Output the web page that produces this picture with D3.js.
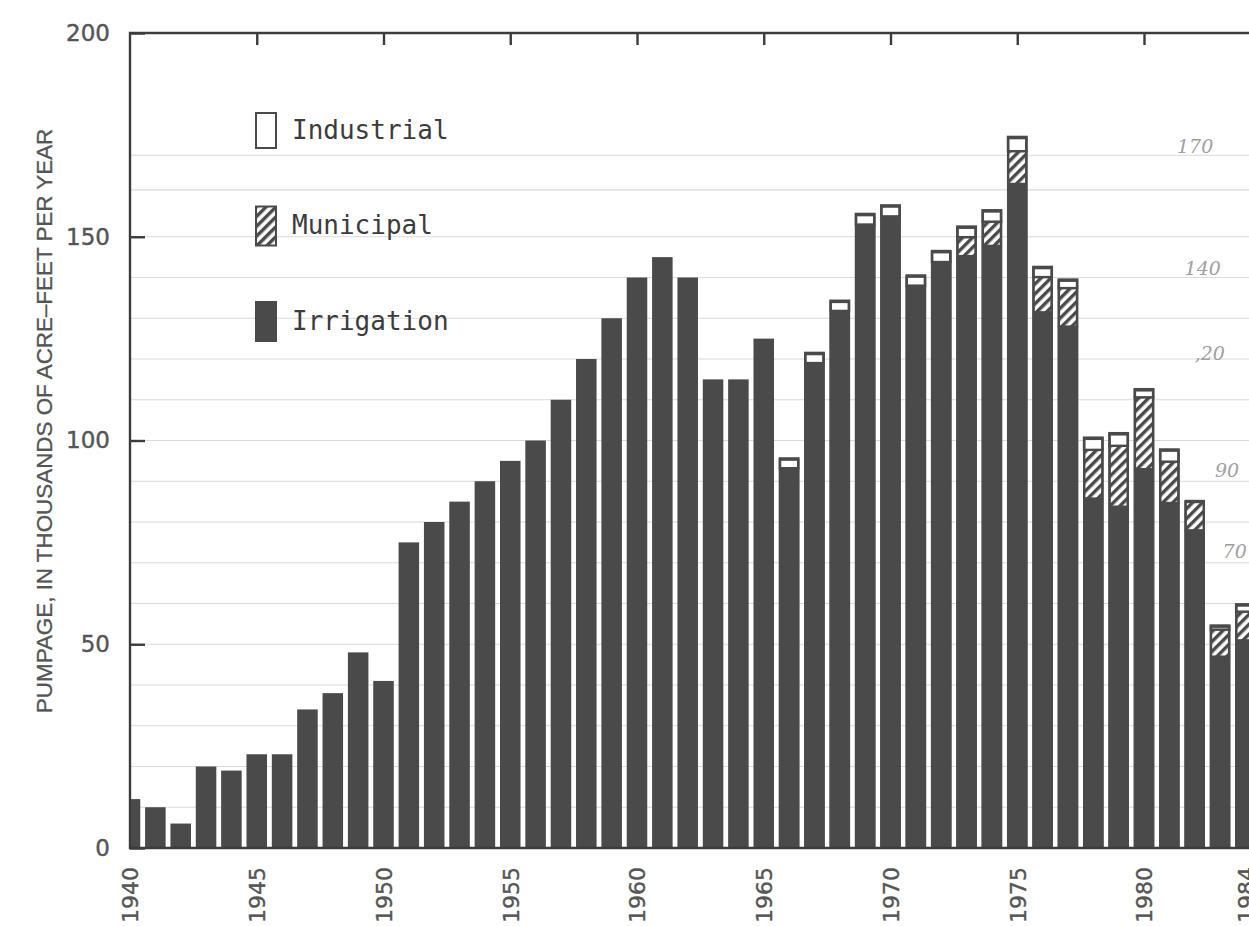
<!DOCTYPE html>
<html>
<head>
<meta charset="utf-8">
<script src="https://cdn.jsdelivr.net/npm/d3@7"></script>
<style>
  html, body { margin: 0; padding: 0; background: #fff; overflow: hidden; }
  svg { display: block; }
</style>
</head>
<body>
<svg id="chart" width="1249" height="926"></svg>
<script>
const years = d3.range(1940, 1985);

// thousands of acre-feet per year
const irrigation = [
  12, 10, 6, 20, 19, 23, 23, 34, 38, 48,
  41, 75, 80, 85, 90, 95, 100, 110, 120, 130,
  140, 145, 140, 115, 115, 125, 93.2, 119, 131.8, 153,
  155, 138, 143.8, 145.3, 147.8, 163, 131.5, 128, 85.8, 83.8,
  93, 84.7, 78, 47, 51
];
const municipal = [
  0, 0, 0, 0, 0, 0, 0, 0, 0, 0,
  0, 0, 0, 0, 0, 0, 0, 0, 0, 0,
  0, 0, 0, 0, 0, 0, 0, 0, 0, 0,
  0, 0, 0, 4.6, 5.9, 8, 8.6, 9.4, 11.9, 14.9,
  17.6, 10.1, 7.2, 6.6, 7
];
const industrial = [
  0, 0, 0, 0, 0, 0, 0, 0, 0, 0,
  0, 0, 0, 0, 0, 0, 0, 0, 0, 0,
  0, 0, 0, 0, 0, 0, 2.4, 2.5, 2.5, 2.6,
  2.7, 2.5, 2.7, 2.6, 2.8, 3.5, 2.5, 2.1, 3, 3.1,
  2, 3, 0, 1, 1.8
];

const yTicks = [0, 50, 100, 150, 200];
const xLabels = [1940, 1945, 1950, 1955, 1960, 1965, 1970, 1975, 1980, 1984];
const xTopTicks = [1945, 1950, 1955, 1960, 1965, 1970, 1975, 1980];
const legendLabels = ['Industrial', 'Municipal', 'Irrigation'];
const paperLines = [10, 20, 30, 40, 50, 60, 70, 80, 90, 100, 110, 120, 130, 140, 150, 161.5, 170];

// pencil notes written in the right margin
const noteTexts = ['170', '140', ',20', '90', '70'];
const noteValues = [170.6, 140.6, 119.8, 91, 71.2];
const noteYears = [1981.3, 1981.6, 1982.0, 1982.8, 1983.1];

const yLabel = 'PUMPAGE, IN THOUSANDS OF ACRE\u2013FEET PER YEAR';

const DARK = '#4a4a4a';
const INK = '#3c3c3c';
const GREY_TEXT = '#555';

const svg = d3.select('#chart');
const W = +svg.attr('width');

const plot = { left: 130, top: 33, bottom: 848 };
const step = 25.35;

const x = d3.scaleBand()
  .domain(years)
  .range([plot.left - step / 2, plot.left - step / 2 + years.length * step])
  .paddingInner(0.19)
  .paddingOuter(0.095);

const xCenter = d3.scaleLinear()
  .domain([1940, 1980])
  .range([x(1940) + x.bandwidth() / 2, x(1980) + x.bandwidth() / 2]);

const y = d3.scaleLinear()
  .domain([0, 200])
  .range([plot.bottom, plot.top]);

const rows = years.map((yr, i) => ({
  year: yr,
  irr: irrigation[i],
  mun: municipal[i],
  ind: industrial[i]
}));

const defs = svg.append('defs');

defs.append('clipPath')
  .attr('id', 'plot-clip')
  .append('rect')
  .attr('x', plot.left)
  .attr('y', plot.top - 2)
  .attr('width', W - plot.left)
  .attr('height', plot.bottom - plot.top + 2);

const hatch = defs.append('pattern')
  .attr('id', 'hatch')
  .attr('patternUnits', 'userSpaceOnUse')
  .attr('width', 7)
  .attr('height', 7)
  .attr('patternTransform', 'rotate(45)');
hatch.append('rect').attr('width', 7).attr('height', 7).attr('fill', '#fff');
hatch.append('rect').attr('width', 3.4).attr('height', 7).attr('fill', DARK);

// faint ruled lines of the paper
svg.append('g')
  .attr('class', 'paper')
  .selectAll('line')
  .data(paperLines)
  .join('line')
  .attr('x1', plot.left)
  .attr('x2', W)
  .attr('y1', d => y(d))
  .attr('y2', d => y(d))
  .attr('stroke', '#dadada')
  .attr('stroke-width', 1.2);

/*
 * BARS
 */
const bars = svg.append('g')
  .attr('class', 'bars')
  .attr('clip-path', 'url(#plot-clip)');

const bw = x.bandwidth();

bars.selectAll('.irrigation')
  .data(rows)
  .join('rect')
  .attr('class', 'irrigation')
  .attr('x', d => x(d.year))
  .attr('width', bw)
  .attr('y', d => y(d.irr))
  .attr('height', d => y(0) - y(d.irr))
  .attr('fill', DARK);

const stacked = rows.filter(d => d.mun + d.ind > 0);

bars.selectAll('.municipal')
  .data(stacked.filter(d => d.mun > 0))
  .join('rect')
  .attr('class', 'municipal')
  .attr('x', d => x(d.year) + 1)
  .attr('width', bw - 2)
  .attr('y', d => y(d.irr + d.mun))
  .attr('height', d => y(d.irr) - y(d.irr + d.mun))
  .attr('fill', 'url(#hatch)')
  .attr('stroke', DARK)
  .attr('stroke-width', 2);

bars.selectAll('.industrial')
  .data(stacked.filter(d => d.ind > 0))
  .join('rect')
  .attr('class', 'industrial')
  .attr('x', d => x(d.year) + 1)
  .attr('width', bw - 2)
  .attr('y', d => y(d.irr + d.mun + d.ind))
  .attr('height', d => y(d.irr + d.mun) - y(d.irr + d.mun + d.ind))
  .attr('fill', '#fff')
  .attr('stroke', DARK)
  .attr('stroke-width', 2.4);

bars.selectAll('.outline')
  .data(stacked)
  .join('rect')
  .attr('class', 'outline')
  .attr('x', d => x(d.year) + 1.2)
  .attr('width', bw - 2.4)
  .attr('y', d => y(d.irr + d.mun + d.ind) + 1.2)
  .attr('height', d => y(0) - y(d.irr + d.mun + d.ind) - 1.2)
  .attr('fill', 'none')
  .attr('stroke', DARK)
  .attr('stroke-width', 2.4);

/*
 * AXES
 */
const frame = svg.append('g').attr('class', 'frame')
  .attr('stroke', INK)
  .attr('stroke-width', 2.4)
  .attr('fill', 'none');

frame.append('path')
  .attr('d', `M${W},${plot.top}H${plot.left}V${plot.bottom}H${W}`);

const yAxis = svg.append('g')
  .attr('transform', `translate(${plot.left},0)`)
  .call(d3.axisLeft(y).tickValues(yTicks).tickSize(-15).tickPadding(20));

yAxis.select('.domain').remove();
yAxis.selectAll('line').attr('stroke', INK).attr('stroke-width', 2.4);
yAxis.selectAll('text')
  .attr('fill', GREY_TEXT)
  .attr('stroke', GREY_TEXT)
  .attr('stroke-width', 0.4)
  .style('font-family', '"DejaVu Sans", sans-serif')
  .style('font-size', '23px');

const topAxis = svg.append('g')
  .attr('transform', `translate(0,${plot.top})`)
  .call(d3.axisTop(xCenter).tickValues(xTopTicks).tickSize(-12).tickFormat(''));

topAxis.select('.domain').remove();
topAxis.selectAll('line').attr('stroke', INK).attr('stroke-width', 2.4);

// the last label (1984) runs off the right edge, as on the original sheet
const xAxis = svg.append('g')
  .attr('transform', `translate(0,${plot.bottom})`)
  .call(d3.axisBottom(xCenter).tickValues(xLabels).tickSize(0).tickFormat(d3.format('d')));

xAxis.select('.domain').remove();
xAxis.selectAll('text')
  .attr('transform', 'rotate(-90)')
  .attr('text-anchor', 'end')
  .attr('x', -19)
  .attr('y', 0)
  .attr('dy', '0.36em')
  .attr('fill', GREY_TEXT)
  .attr('stroke', GREY_TEXT)
  .attr('stroke-width', 0.4)
  .style('font-family', '"DejaVu Sans", sans-serif')
  .style('font-size', '22px');

svg.append('text')
  .attr('transform', `translate(52,${y(104.8)}) rotate(-90)`)
  .attr('text-anchor', 'middle')
  .attr('fill', GREY_TEXT)
  .attr('stroke', GREY_TEXT)
  .attr('stroke-width', 0.3)
  .style('font-family', '"Liberation Sans", Arial, sans-serif')
  .style('font-size', '22.4px')
  .text(yLabel);

/*
 * LEGEND
 */
const legend = svg.append('g')
  .attr('class', 'legend')
  .attr('transform', 'translate(255,130)');

const swatchFill = ['#fff', 'url(#hatch)', DARK];

const item = legend.selectAll('g')
  .data(legendLabels)
  .join('g')
  .attr('transform', (d, i) => `translate(0,${i * 95.5})`);

item.append('rect')
  .attr('x', 1)
  .attr('y', (d, i) => i === 0 ? -17 : -19)
  .attr('width', 20)
  .attr('height', (d, i) => i === 0 ? 35 : 39)
  .attr('fill', (d, i) => swatchFill[i])
  .attr('stroke', DARK)
  .attr('stroke-width', 2);

item.append('text')
  .attr('x', 37)
  .attr('y', 0)
  .attr('dy', '0.34em')
  .attr('fill', INK)
  .style('font-family', '"DejaVu Sans Mono", monospace')
  .style('font-size', '26px')
  .text(d => d);

// pencil notes
svg.append('g')
  .attr('class', 'notes')
  .selectAll('text')
  .data(noteTexts)
  .join('text')
  .attr('x', (d, i) => xCenter(noteYears[i]))
  .attr('y', (d, i) => y(noteValues[i]))
  .attr('fill', '#a0a0a0')
  .style('font-family', '"DejaVu Serif", serif')
  .style('font-style', 'italic')
  .style('font-size', '19px')
  .text(d => d);
</script>
</body>
</html>
